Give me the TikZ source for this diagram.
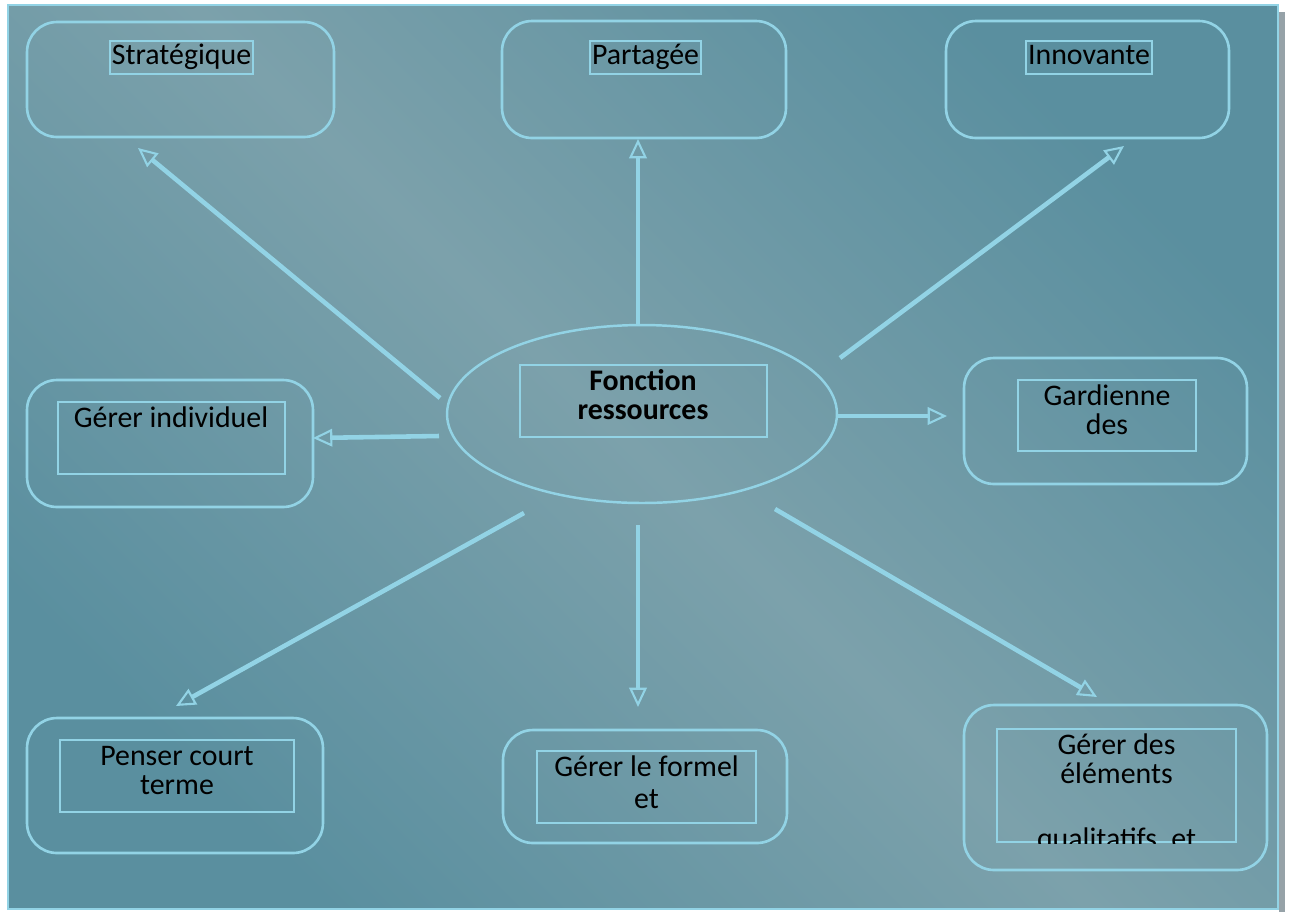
\documentclass[tikz,border=0pt]{standalone}
\usepackage{fontspec}
\setmainfont{Carlito}
\usetikzlibrary{arrows.meta}
\usetikzlibrary{shapes.geometric}

\definecolor{lblue}{RGB}{146,211,229}
\definecolor{bgin}{RGB}{124,161,171}
\definecolor{bgout}{RGB}{90,143,159}
\definecolor{shadowgray}{RGB}{150,162,168}

\tikzset{
	rbox/.style={draw=lblue, line width=1.5pt, rounded corners=0.6cm, inner sep=0pt},
	inbox/.style={draw=lblue, line width=1.4pt, inner sep=0pt},
	lbl/.style={draw=lblue, line width=1.3pt, inner sep=1.2pt, text height=12pt, text depth=4pt},
	txt/.style={align=center, inner sep=0pt},
	link/.style={lblue, line width=2.6pt, -{Triangle[open, length=11pt, width=10pt, line width=1.2pt]}}
}

\begin{document}
\begin{tikzpicture}[x=0.02cm, y=-0.02cm, font=\fontsize{17}{16.5}\selectfont]
		\useasboundingbox (0,0) rectangle (1290,914);
		% frame
		\fill[shadowgray] (1279,12) rectangle (1285,912);
		\shadedraw[draw=lblue, line width=1.4pt, top color=bgout, bottom color=bgout, middle color=bgin, shading angle=-45] (8,5) rectangle (1278,909);

		% centre
		\node[ellipse, draw=lblue, line width=1.4pt, minimum width=7.8cm, minimum height=3.56cm, inner sep=0pt] (fr) at (642,414) {};
		\node[inbox, minimum width=4.94cm, minimum height=1.44cm] (fr-in) at (643.5,401) {};
		\node[txt, font=\fontsize{17}{16.5}\selectfont\bfseries] (fr-t) at (643,395) {Fonction\\ressources};

		% top row
		\node[rbox, minimum width=6.14cm, minimum height=2.3cm] (str) at (180.5,79.5) {};
		\node[lbl] (str-l) at (181.5,57.5) {Stratégique};
		\node[rbox, minimum width=5.68cm, minimum height=2.34cm] (par) at (644,79.5) {};
		\node[lbl] (par-l) at (645.5,57.5) {Partagée};
		\node[rbox, minimum width=5.66cm, minimum height=2.34cm] (inn) at (1087.5,79.5) {};
		\node[lbl] (inn-l) at (1089,57.5) {Innovante};

		% middle row
		\node[rbox, minimum width=5.72cm, minimum height=2.54cm] (ind) at (170,443.5) {};
		\node[inbox, minimum width=4.54cm, minimum height=1.44cm] (ind-in) at (171.5,438) {};
		\node[txt] (ind-t) at (171,417) {Gérer individuel};
		\node[rbox, minimum width=5.66cm, minimum height=2.52cm] (gar) at (1105.5,421) {};
		\node[inbox, minimum width=3.56cm, minimum height=1.42cm] (gar-in) at (1107,415.5) {};
		\node[txt] (gar-t) at (1107,410) {Gardienne\\des};

		% bottom row
		\node[rbox, minimum width=5.92cm, minimum height=2.7cm] (pen) at (175,785.5) {};
		\node[inbox, minimum width=4.68cm, minimum height=1.44cm] (pen-in) at (177,776) {};
		\node[txt] (pen-t) at (177,771) {Penser court\\terme};
		\node[rbox, minimum width=5.68cm, minimum height=2.26cm] (for) at (645,786.5) {};
		\node[inbox, minimum width=4.38cm, minimum height=1.44cm] (for-in) at (646.5,787) {};
		\node[txt, font=\fontsize{17}{18}\selectfont] (for-t) at (646.5,782) {Gérer le formel\\et};
		\node[rbox, minimum width=6.06cm, minimum height=3.3cm] (qua) at (1115.5,787.5) {};
		\node[inbox, minimum width=4.78cm, minimum height=2.26cm] (qua-in) at (1116.5,785.5) {};
		\begin{scope}
			\clip (qua-in.north west) rectangle (qua-in.south east);
			\node[txt, anchor=north] (qua-t) at (1116.5,733) {Gérer des\\éléments\\[20.5pt]qualitatifs, et};
		\end{scope}

		% arrow ends
		\coordinate (fr-str) at (440,398);
		\coordinate (str-in) at (138,148);
		\coordinate (fr-par) at (638,326);
		\coordinate (par-in) at (638,139);
		\coordinate (fr-inn) at (840,358);
		\coordinate (inn-in) at (1124,146);
		\coordinate (fr-ind) at (439,436);
		\coordinate (ind-a) at (313,438);
		\coordinate (fr-gar) at (838,416);
		\coordinate (gar-a) at (947,416);
		\coordinate (fr-pen) at (524,513);
		\coordinate (pen-a) at (176,706);
		\coordinate (fr-for) at (638,525);
		\coordinate (for-a) at (638,707);
		\coordinate (fr-qua) at (775,509);
		\coordinate (qua-a) at (1097,697);

		\draw[link] (fr-str) -- (str-in);
		\draw[link] (fr-par) -- (par-in);
		\draw[link] (fr-inn) -- (inn-in);
		\draw[link] (fr-ind) -- (ind-a);
		\draw[link] (fr-gar) -- (gar-a);
		\draw[link] (fr-pen) -- (pen-a);
		\draw[link] (fr-for) -- (for-a);
		\draw[link] (fr-qua) -- (qua-a);
	\end{tikzpicture}
\end{document}
